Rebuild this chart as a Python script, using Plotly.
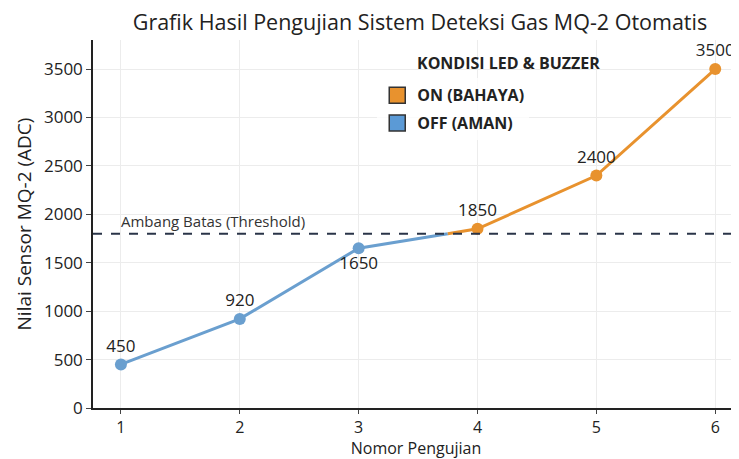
import plotly.graph_objects as go

tests = [1, 2, 3, 4, 5, 6]
values = [450, 920, 1650, 1850, 2400, 3500]
threshold = 1800
label_pos = ["top center", "top center", "bottom center", "top center", "top center", "top center"]

BLUE = "#6a9fcf"
ORANGE = "#e8922e"
FONT = "Open Sans"

# split line at threshold crossing
bx, by, ox, oy = [], [], [], []
for i, (x, v) in enumerate(zip(tests, values)):
    if v < threshold:
        bx.append(x); by.append(v)
        if i + 1 < len(values) and values[i + 1] >= threshold:
            xc = x + (threshold - v) / (values[i + 1] - v)
            bx.append(xc); by.append(threshold)
            ox.append(xc); oy.append(threshold)
    else:
        ox.append(x); oy.append(v)

fig = go.Figure()
fig.add_trace(go.Scatter(x=bx, y=by, mode="lines", line=dict(color=BLUE, width=3), showlegend=False, hoverinfo="skip"))
fig.add_trace(go.Scatter(x=ox, y=oy, mode="lines", line=dict(color=ORANGE, width=3), showlegend=False, hoverinfo="skip"))

colors = [ORANGE if v >= threshold else BLUE for v in values]
fig.add_trace(go.Scatter(x=tests, y=values, mode="markers+text", marker=dict(color=colors, size=12),
                         text=[str(v) for v in values], textposition=label_pos, cliponaxis=False,
                         textfont=dict(family=FONT, size=17, color="#222"), showlegend=False))

fig.add_trace(go.Scatter(x=[None], y=[None], mode="markers", name="<b>ON (BAHAYA)</b>", legendgroup="on",
                         marker=dict(symbol="square", size=24, color=ORANGE, line=dict(color="#333", width=1.5))))
fig.add_trace(go.Scatter(x=[None], y=[None], mode="markers", name="<b>OFF (AMAN)</b>", legendgroup="off",
                         marker=dict(symbol="square", size=24, color="#5b9ad6", line=dict(color="#333", width=1.5))))

fig.add_shape(type="line", xref="paper", x0=0, x1=1, yref="y", y0=threshold, y1=threshold,
              line=dict(color="#2a3448", width=2, dash="dash"))
fig.add_annotation(x=1, y=threshold, xref="x", yref="y", text="Ambang Batas (Threshold)", showarrow=False,
                   xanchor="left", yanchor="bottom", yshift=1, xshift=-2,
                   font=dict(family=FONT, size=15, color="#333"))
fig.add_annotation(x=0.498, y=0.9375, xref="paper", yref="paper", text="<b>KONDISI LED & BUZZER</b>",
                   showarrow=False, xanchor="left", yanchor="middle",
                   font=dict(family=FONT, size=16, color="#222"))

fig.update_layout(
    width=731, height=451,
    margin=dict(l=85, r=0, t=32, b=51),
    paper_bgcolor="white", plot_bgcolor="white",
    title=dict(text="Grafik Hasil Pengujian Sistem Deteksi Gas MQ-2 Otomatis", x=0.5636, xanchor="center",
               y=0.968, yanchor="middle", font=dict(family=FONT, size=21.5, color="#222")),
    font=dict(family=FONT, color="#222"),
    legend=dict(x=0.44, y=0.896, xanchor="left", yanchor="top", traceorder="grouped",
                font=dict(family=FONT, size=16, color="#222"), bgcolor="rgba(255,255,255,0.8)",
                itemsizing="trace", tracegroupgap=4),
    xaxis=dict(range=[0.765, 6.2], tickvals=tests, showgrid=True, gridcolor="#ececec",
               showline=True, linecolor="#222", linewidth=1.5, ticks="outside", ticklen=4,
               tickfont=dict(size=16), zeroline=False,
               title=dict(text="Nomor Pengujian", font=dict(size=16), standoff=6)),
    yaxis=dict(range=[0, 3800], tickvals=[0, 500, 1000, 1500, 2000, 2500, 3000, 3500], showgrid=True,
               gridcolor="#ececec", showline=True, linecolor="#222", linewidth=1.5, ticks="outside",
               ticklen=5, tickfont=dict(size=17), zeroline=False,
               title=dict(text="Nilai Sensor MQ-2 (ADC)", font=dict(size=19), standoff=7)),
)

fig.write_html("out.html")
